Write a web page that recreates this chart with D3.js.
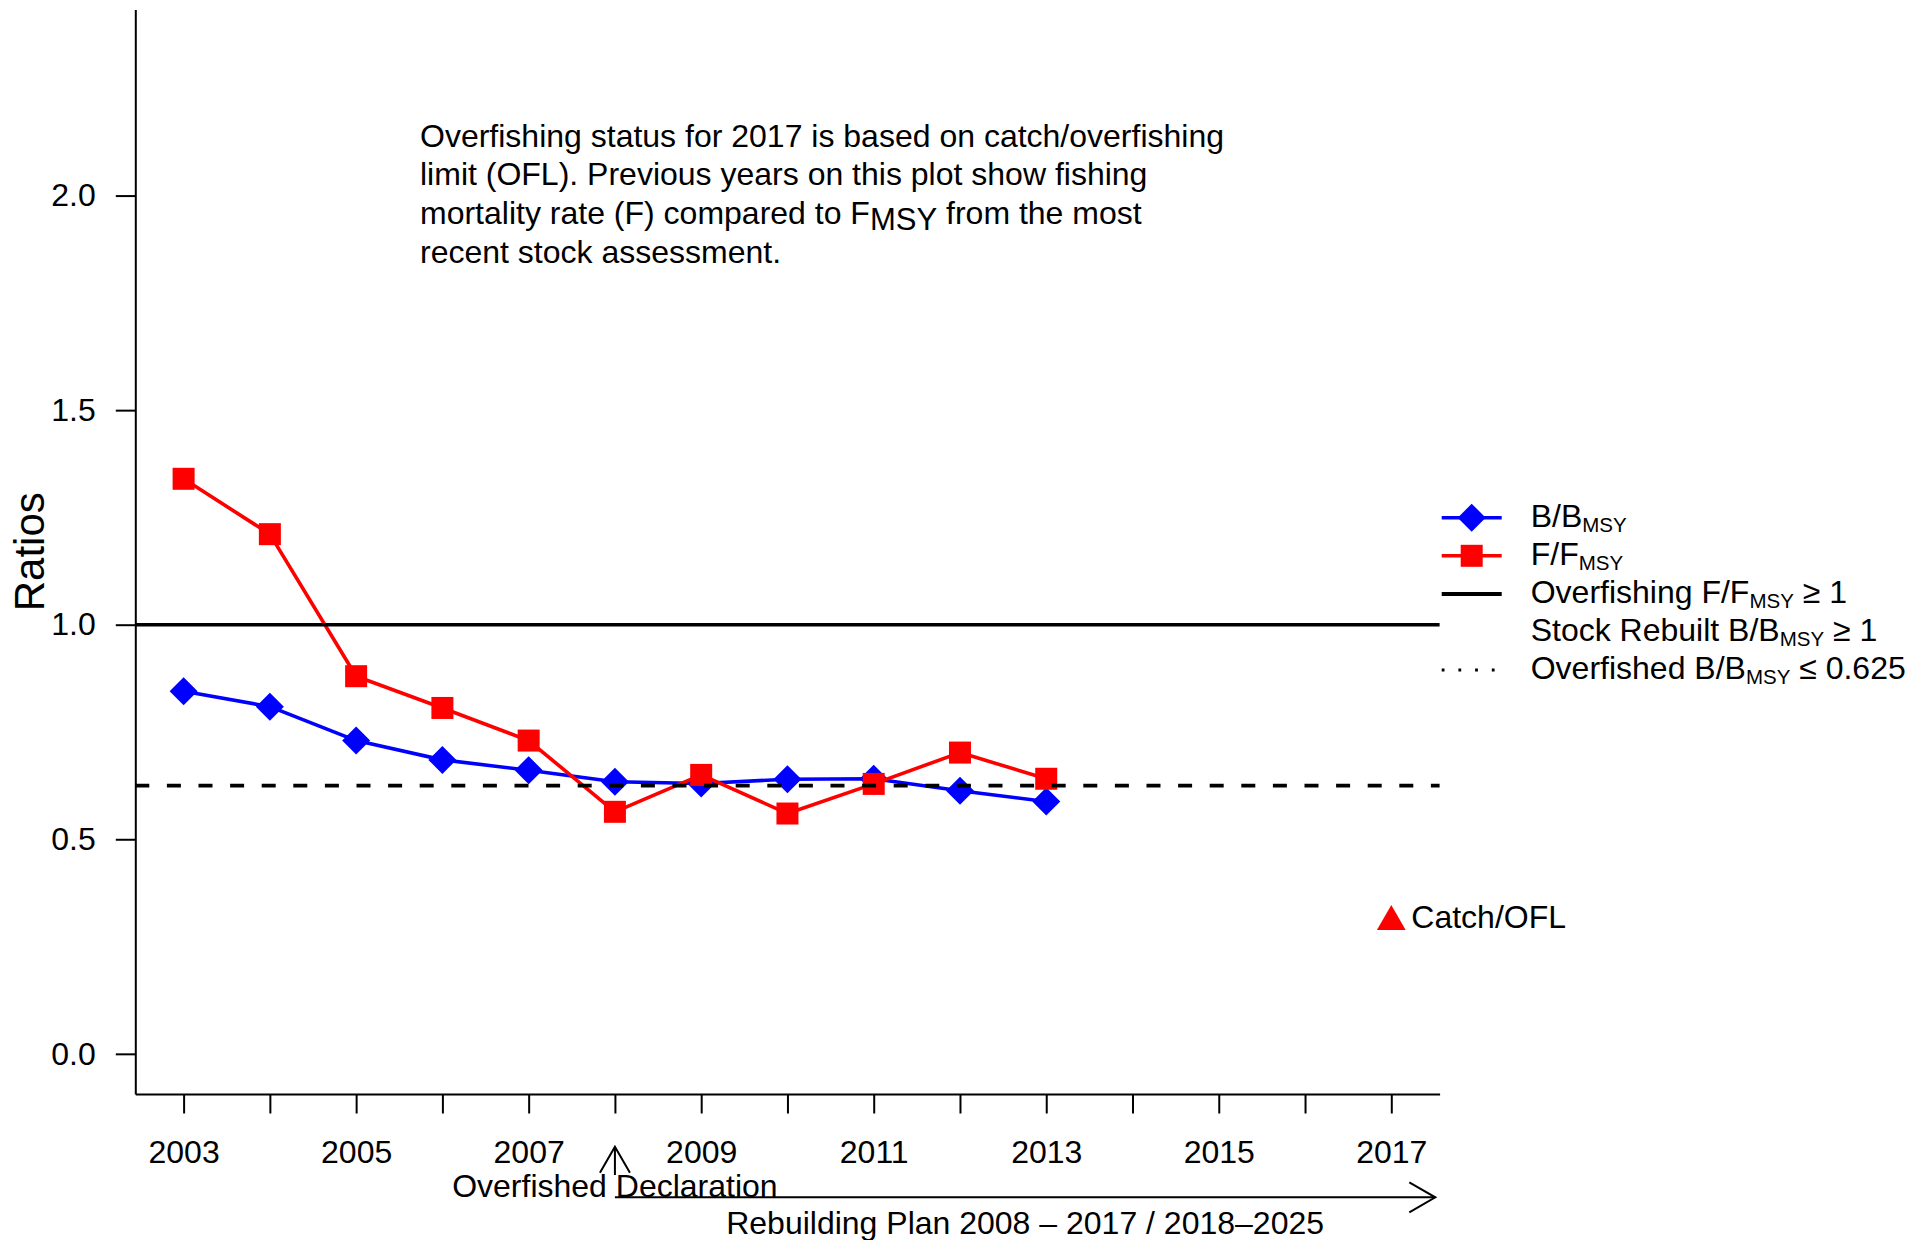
<!DOCTYPE html>
<html>
<head>
<meta charset="utf-8">
<script src="https://cdn.jsdelivr.net/npm/d3@7"></script>
<style>
  body { margin: 0; background: #fff; }
  svg { display: block; }
  text { font-family: "Liberation Sans", Arial, Helvetica, sans-serif; fill: #000; }
</style>
</head>
<body>
<svg id="chart" width="1906" height="1240"></svg>
<script>
// Stock status ratios by year
const years  = [2003, 2004, 2005, 2006, 2007, 2008, 2009, 2010, 2011, 2012, 2013];
const bRatio = [0.845, 0.809, 0.730, 0.685, 0.661, 0.634, 0.630, 0.640, 0.641, 0.613, 0.588];
const fRatio = [1.340, 1.211, 0.880, 0.806, 0.730, 0.564, 0.650, 0.560, 0.629, 0.702, 0.641];

// Catch / overfishing limit for the latest year
const catchYear = 2017;
const catchOFL = 0.308;

// Reference levels
const overfishingLevel = 1.0;
const overfishedLevel = 0.625;

// Axis ticks and labels
const yTicks = [0, 0.5, 1, 1.5, 2];
const xTicks = d3.range(2003, 2018);
const xLabelled = [2003, 2005, 2007, 2009, 2011, 2013, 2015, 2017];

// Timeline events
const declarationYear = 2008;
const planStart = 2008;
const planEnd = 2017.51;

const noteLines = [
  [{t: "Overfishing status for 2017 is based on catch/overfishing"}],
  [{t: "limit (OFL). Previous years on this plot show fishing"}],
  [{t: "mortality rate (F) compared to F"}, {t: "MSY", sub: true}, {t: " from the most"}],
  [{t: "recent stock assessment."}]
];

const legendRows = [
  {parts: [{t: "B/B"}, {t: "MSY", sub: true}], kind: "diamond"},
  {parts: [{t: "F/F"}, {t: "MSY", sub: true}], kind: "square"},
  {parts: [{t: "Overfishing F/F"}, {t: "MSY", sub: true}, {t: " \u2265 1"}], kind: "solid"},
  {parts: [{t: "Stock Rebuilt B/B"}, {t: "MSY", sub: true}, {t: " \u2265 1"}], kind: "none"},
  {parts: [{t: "Overfished B/B"}, {t: "MSY", sub: true}, {t: " \u2264 0.625"}], kind: "dotted"}
];

const FS = 32;
const svg = d3.select("#chart");

const x = d3.scaleLinear().domain([2002.44, 2017.56]).range([135.3, 1439.6]);
const y = d3.scaleLinear().domain([-0.0936, 2.4336]).range([1094, 9.5]);

// Axes
const yAxis = d3.axisLeft(y).tickValues(yTicks).tickSize(19.5).tickSizeOuter(0)
  .tickPadding(20).tickFormat(d3.format(".1f"));
const gy = svg.append("g").attr("transform", `translate(${x.range()[0]},0)`).call(yAxis);

const xAxis = d3.axisBottom(x).tickValues(xTicks).tickSize(19.5).tickSizeOuter(0)
  .tickPadding(27).tickFormat(d => xLabelled.includes(d) ? String(d) : "");
const gx = svg.append("g").attr("transform", `translate(0,${y.range()[0]})`).call(xAxis);

[gx, gy].forEach(g => {
  g.selectAll("path.domain").attr("stroke", "#000").attr("stroke-width", 2);
  g.selectAll(".tick line").attr("stroke", "#000").attr("stroke-width", 2);
  g.selectAll(".tick text").attr("font-size", FS).attr("font-family", null).style("fill", "#000");
});

// Y axis title
svg.append("text")
  .attr("transform", `translate(44,${(y.range()[0] + y.range()[1]) / 2}) rotate(-90)`)
  .attr("text-anchor", "middle")
  .attr("font-size", 42)
  .text("Ratios");

// Series lines
const line = d3.line().x(d => x(d[0])).y(d => y(d[1]));
const bPts = years.map((yr, i) => [yr, bRatio[i]]);
const fPts = years.map((yr, i) => [yr, fRatio[i]]);

function diamondPath(cx, cy, r) {
  return `M${cx},${cy - r}L${cx + r},${cy}L${cx},${cy + r}L${cx - r},${cy}Z`;
}

svg.append("path").attr("d", line(bPts)).attr("fill", "none")
  .attr("stroke", "#0000FF").attr("stroke-width", 3.6).attr("stroke-linejoin", "round");
svg.append("g").selectAll("path").data(bPts).join("path")
  .attr("d", d => diamondPath(x(d[0]), y(d[1]), 14))
  .attr("fill", "#0000FF");

svg.append("path").attr("d", line(fPts)).attr("fill", "none")
  .attr("stroke", "#FF0000").attr("stroke-width", 3.6).attr("stroke-linejoin", "round");
svg.append("g").selectAll("rect").data(fPts).join("rect")
  .attr("x", d => x(d[0]) - 11).attr("y", d => y(d[1]) - 11)
  .attr("width", 22).attr("height", 22)
  .attr("fill", "#FF0000");

// Reference lines
svg.append("line")
  .attr("x1", x.range()[0]).attr("x2", x.range()[1])
  .attr("y1", y(overfishingLevel)).attr("y2", y(overfishingLevel))
  .attr("stroke", "#000").attr("stroke-width", 3.4);
svg.append("line")
  .attr("x1", x.range()[0]).attr("x2", x.range()[1])
  .attr("y1", y(overfishedLevel)).attr("y2", y(overfishedLevel))
  .attr("stroke", "#000").attr("stroke-width", 3.8)
  .attr("stroke-dasharray", "14 17.6");

// Catch/OFL marker
{
  const cx = x(catchYear), cy = y(catchOFL);
  svg.append("path")
    .attr("d", `M${cx},${cy - 16.6}L${cx + 14.4},${cy + 8.3}L${cx - 14.4},${cy + 8.3}Z`)
    .attr("fill", "#FF0000");
  svg.append("text")
    .attr("x", cx + 20).attr("y", cy + 6.5)
    .attr("font-size", FS)
    .text("Catch/OFL");
}

// Note text block
function writeParts(sel, parts, subSize, subShift) {
  parts.forEach(p => {
    if (p.sub) {
      sel.append("tspan").attr("font-size", subSize).attr("dy", subShift).text(p.t);
    } else {
      const ts = sel.append("tspan").text(p.t);
      if (sel.selectAll("tspan").size() > 1) ts.attr("dy", -subShift);
    }
  });
}

const noteBaselines = [146.7, 185.4, 224.4, 263.3];
noteLines.forEach((parts, i) => {
  const t = svg.append("text").attr("x", 420).attr("y", noteBaselines[i]).attr("font-size", FS);
  writeParts(t, parts, FS * 0.97, 6);
});

// Legend
const legX0 = 1441.7, legX1 = 1501.7, legTextX = 1530.7;
const legBase = [526.7, 564.8, 602.9, 641, 679.1];
legendRows.forEach((row, i) => {
  const cy = legBase[i] - 9;
  const g = svg.append("g");
  if (row.kind === "diamond") {
    g.append("line").attr("x1", legX0).attr("x2", legX1).attr("y1", cy).attr("y2", cy)
      .attr("stroke", "#0000FF").attr("stroke-width", 3.6);
    g.append("path").attr("d", diamondPath((legX0 + legX1) / 2, cy, 14)).attr("fill", "#0000FF");
  } else if (row.kind === "square") {
    g.append("line").attr("x1", legX0).attr("x2", legX1).attr("y1", cy).attr("y2", cy)
      .attr("stroke", "#FF0000").attr("stroke-width", 3.6);
    g.append("rect").attr("x", (legX0 + legX1) / 2 - 11).attr("y", cy - 11)
      .attr("width", 22).attr("height", 22).attr("fill", "#FF0000");
  } else if (row.kind === "solid") {
    g.append("line").attr("x1", legX0).attr("x2", legX1).attr("y1", cy).attr("y2", cy)
      .attr("stroke", "#000").attr("stroke-width", 4);
  } else if (row.kind === "dotted") {
    g.append("line").attr("x1", legX0).attr("x2", legX1).attr("y1", cy).attr("y2", cy)
      .attr("stroke", "#000").attr("stroke-width", 3)
      .attr("stroke-dasharray", "2.8 13.9");
  }
  const t = svg.append("text").attr("x", legTextX).attr("y", legBase[i]).attr("font-size", FS);
  writeParts(t, row.parts, 20.5, 5);
});

// Timeline annotations under the axis
const declX = x(declarationYear);
function arrowHead(g, tipX, tipY, dirX, dirY) {
  const L = 30, a = Math.PI / 6;
  const ang = Math.atan2(dirY, dirX);
  const p1 = [tipX - L * Math.cos(ang - a), tipY - L * Math.sin(ang - a)];
  const p2 = [tipX - L * Math.cos(ang + a), tipY - L * Math.sin(ang + a)];
  g.append("path")
    .attr("d", `M${p1[0]},${p1[1]}L${tipX},${tipY}L${p2[0]},${p2[1]}`)
    .attr("fill", "none").attr("stroke", "#000").attr("stroke-width", 2);
}
const ann = svg.append("g");
ann.append("line").attr("x1", declX).attr("x2", declX).attr("y1", 1175).attr("y2", 1146.7)
  .attr("stroke", "#000").attr("stroke-width", 2);
arrowHead(ann, declX, 1146.7, 0, -1);

const planX0 = x(planStart), planX1 = x(planEnd);
ann.append("line").attr("x1", planX0).attr("x2", planX1).attr("y1", 1197.3).attr("y2", 1197.3)
  .attr("stroke", "#000").attr("stroke-width", 2);
arrowHead(ann, planX1, 1197.3, 1, 0);

svg.append("text").attr("x", declX).attr("y", 1196.7).attr("text-anchor", "middle")
  .attr("font-size", FS).text("Overfished Declaration");
svg.append("text").attr("x", (planX0 + planX1) / 2).attr("y", 1234).attr("text-anchor", "middle")
  .attr("font-size", FS).text("Rebuilding Plan 2008 \u2013 2017 / 2018\u20132025");
</script>
</body>
</html>
